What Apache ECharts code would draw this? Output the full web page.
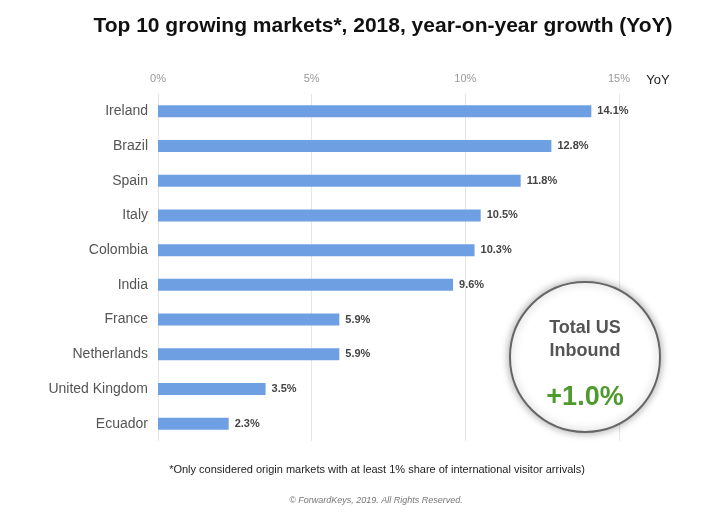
<!DOCTYPE html>
<html>
<head>
<meta charset="utf-8">
<script src="https://cdn.jsdelivr.net/npm/echarts@6/dist/echarts.min.js"></script>
<style>
  html, body { margin: 0; padding: 0; background: #fff; }
  #chart { width: 709px; height: 517px; }
</style>
</head>
<body>
<div id="chart"></div>
<script>
const markets = ["Ireland", "Brazil", "Spain", "Italy", "Colombia", "India", "France", "Netherlands", "United Kingdom", "Ecuador"];
const growth = [14.1, 12.8, 11.8, 10.5, 10.3, 9.6, 5.9, 5.9, 3.5, 2.3];
const tickValues = [0, 5, 10, 15];
const totalInbound = "+1.0%";

const chart = echarts.init(document.getElementById("chart"));
const font = "Liberation Sans, Arial, sans-serif";

// shared style for the centred annotation texts
function label(text, x, y, extra) {
  return {
    type: "text",
    x: x,
    y: y,
    z: 11,
    style: Object.assign(
      { text: text, align: "center", verticalAlign: "middle", fontFamily: font },
      extra
    ),
  };
}

chart.setOption({
  animation: false,
  title: {
    text: "Top 10 growing markets*, 2018, year-on-year growth (YoY)",
    left: 378,
    top: 11,
    textAlign: "center",
    textStyle: { fontFamily: font, fontSize: 21, fontWeight: "bold", color: "#111" },
  },
  grid: { left: 158, right: 90, top: 94, bottom: 76 },
  xAxis: {
    type: "value",
    position: "top",
    min: 0,
    max: 15,
    interval: 5,
    axisLine: { show: false },
    axisTick: { show: false },
    axisLabel: {
      fontFamily: font,
      fontSize: 11,
      color: "#999",
      margin: 10,
      formatter: (v) => (tickValues.includes(v) ? v + "%" : ""),
    },
    splitLine: { show: true, lineStyle: { color: "#e6e6e6", width: 1 } },
  },
  yAxis: {
    type: "category",
    data: markets,
    inverse: true,
    axisLine: { show: false },
    axisTick: { show: false },
    axisLabel: { fontFamily: font, fontSize: 14, color: "#555", margin: 10 },
  },
  series: [
    {
      type: "bar",
      data: growth,
      barWidth: 12,
      itemStyle: { color: "#6f9fe3" },
      label: {
        show: true,
        position: "right",
        distance: 6,
        fontFamily: font,
        fontSize: 11,
        fontWeight: "bold",
        color: "#444",
        formatter: (p) => p.value.toFixed(1) + "%",
      },
    },
  ],
  graphic: [
    label("YoY", 658, 80, { fontSize: 13, fill: "#222" }),
    {
      type: "circle",
      shape: { cx: 585, cy: 357, r: 75 },
      style: {
        fill: "#fff",
        stroke: "#666",
        lineWidth: 2,
        shadowBlur: 8,
        shadowColor: "rgba(0,0,0,0.35)",
      },
      z: 10,
    },
    label("Total US", 585, 328, { fontSize: 18, fontWeight: "bold", fill: "#555" }),
    label("Inbound", 585, 351, { fontSize: 18, fontWeight: "bold", fill: "#555" }),
    label(totalInbound, 585, 398, { fontSize: 27, fontWeight: "bold", fill: "#4f9a2e" }),
    label("*Only considered origin markets with at least 1% share of international visitor arrivals)", 377, 470, {
      fontSize: 11,
      fill: "#222",
    }),
    label("© ForwardKeys, 2019. All Rights Reserved.", 376, 500, {
      fontSize: 9,
      fontStyle: "italic",
      fill: "#777",
    }),
  ],
});
</script>
</body>
</html>
